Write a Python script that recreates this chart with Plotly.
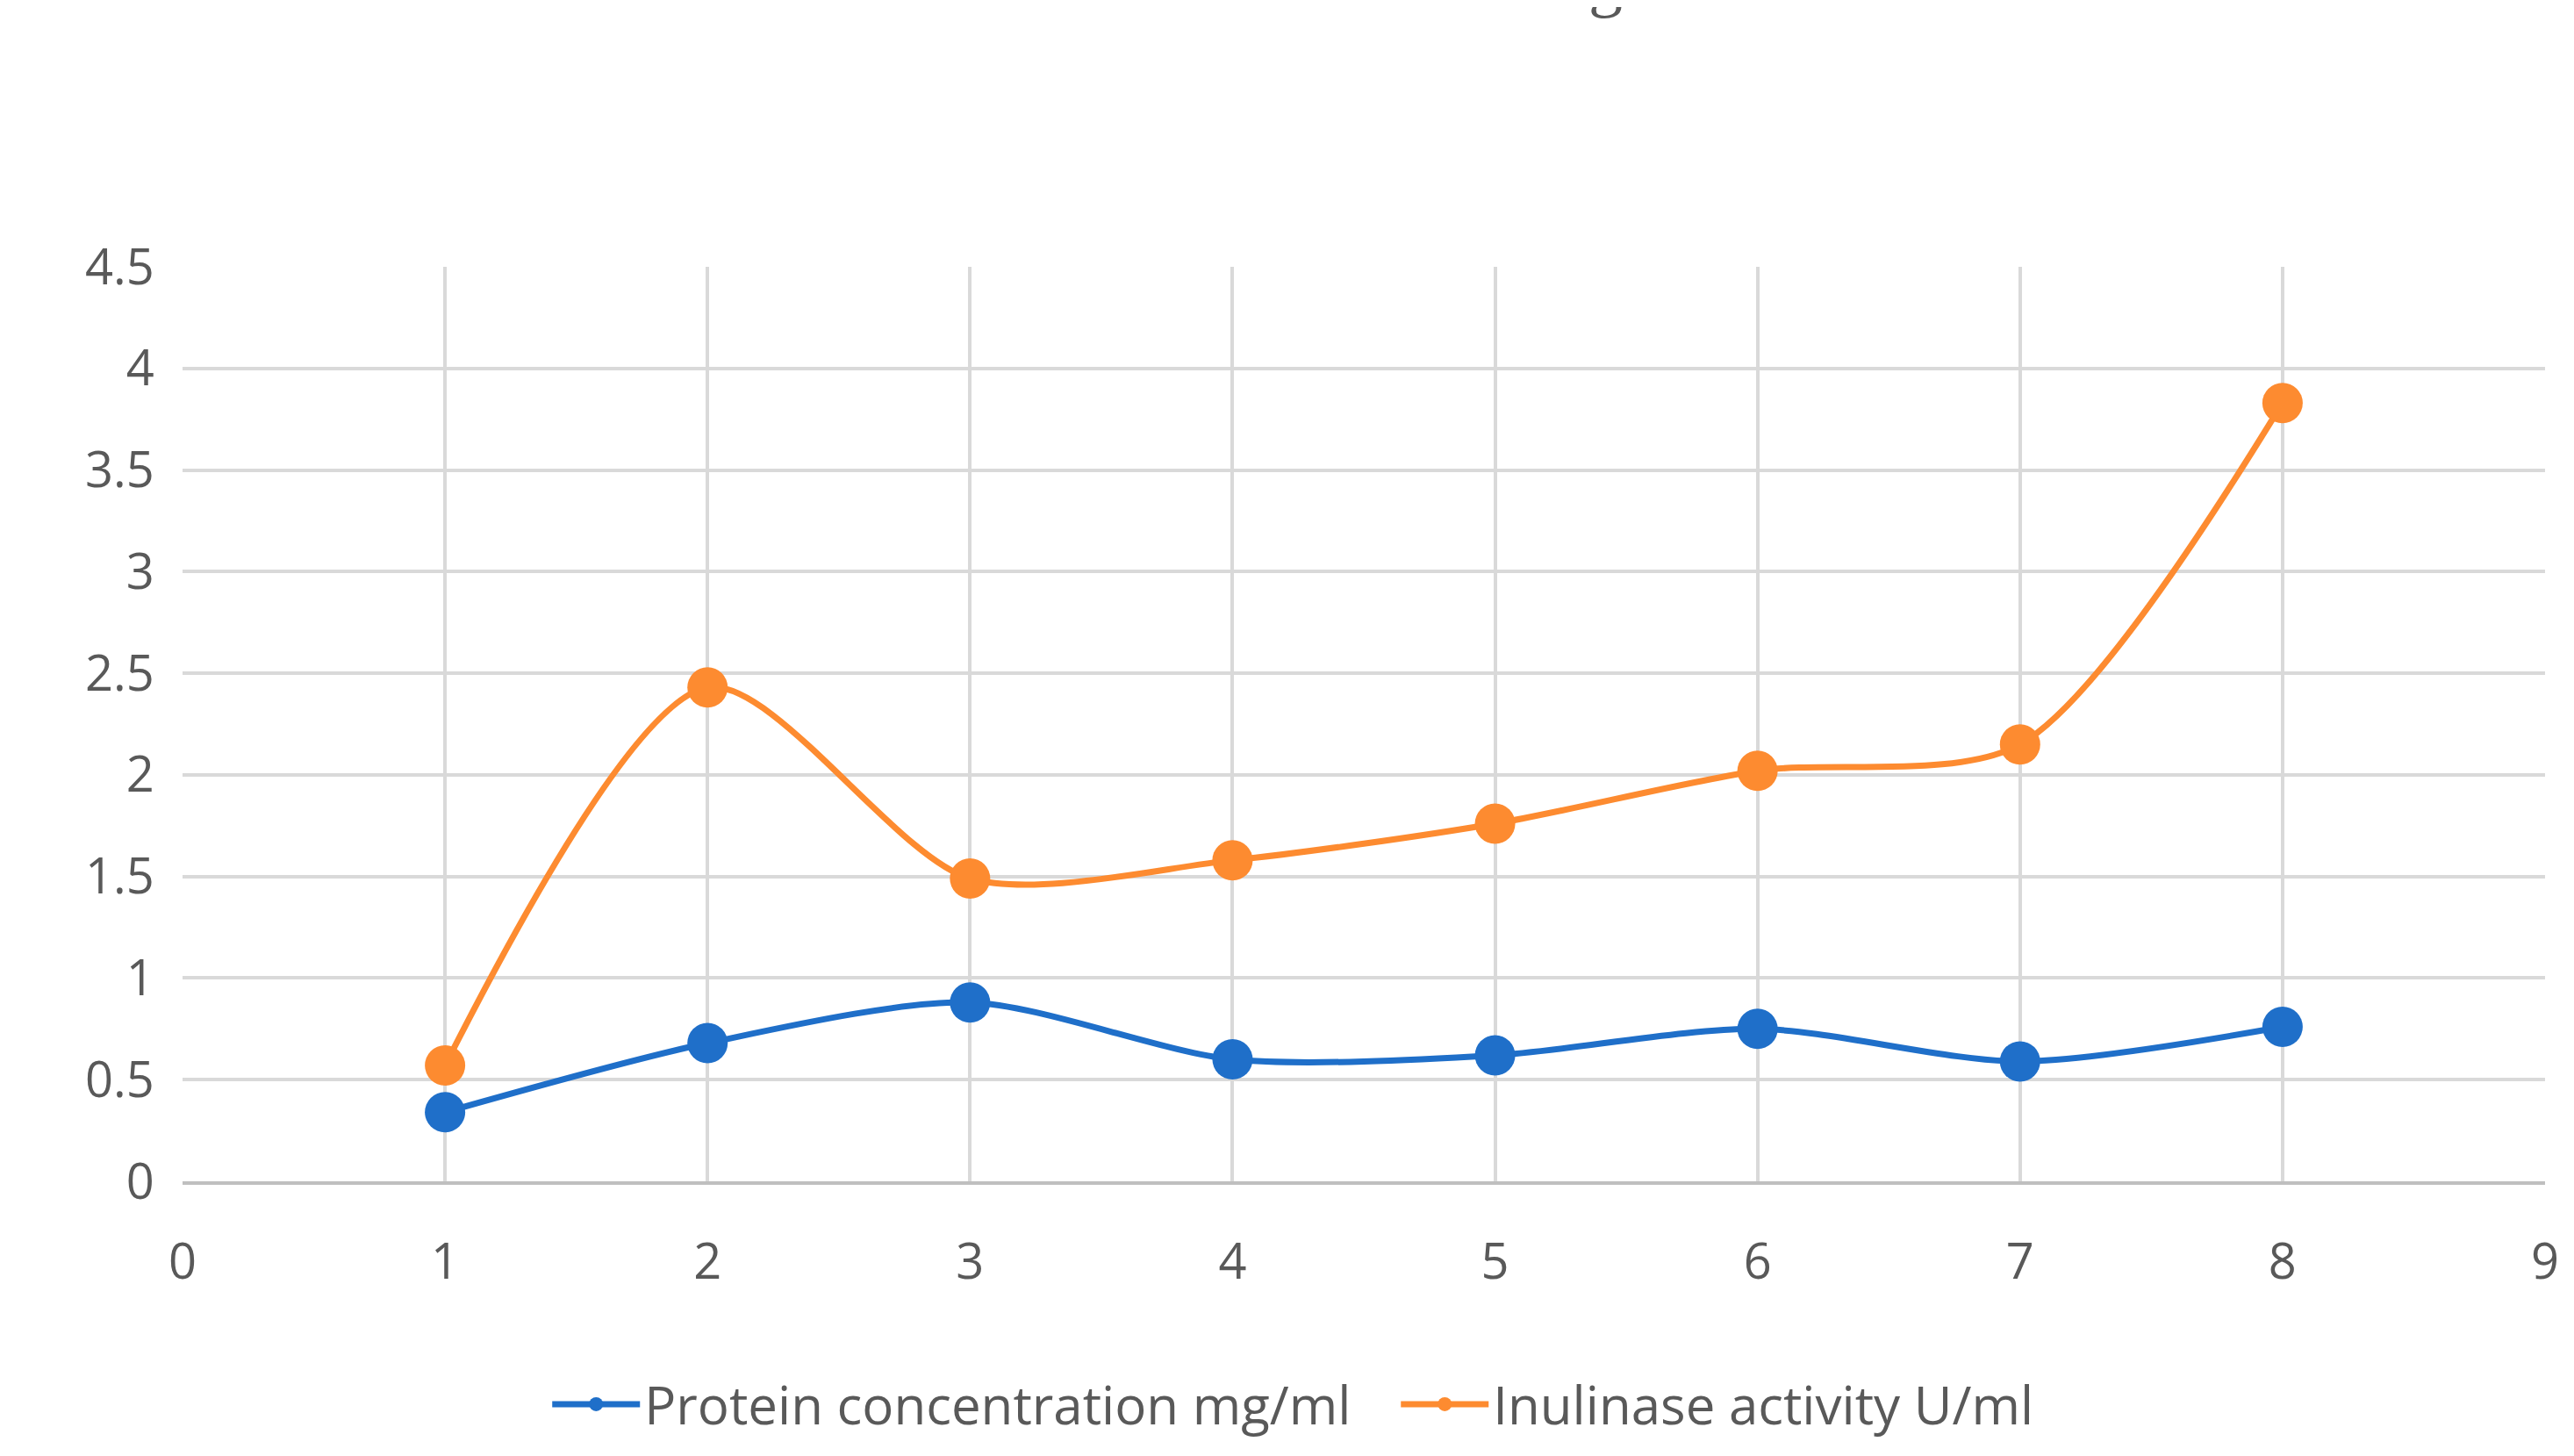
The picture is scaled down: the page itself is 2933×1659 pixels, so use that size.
import plotly.graph_objects as go

days = [1, 2, 3, 4, 5, 6, 7, 8]
protein = [0.34, 0.68, 0.88, 0.60, 0.62, 0.75, 0.59, 0.76]
inulinase = [0.57, 2.43, 1.49, 1.58, 1.76, 2.02, 2.15, 3.83]
y_ticks = [0, 0.5, 1, 1.5, 2, 2.5, 3, 3.5, 4, 4.5]
y_labels = ["0", "0.5", "1", "1.5", "2", "2.5", "3", "3.5", "4", "4.5"]

fig = go.Figure()
fig.add_trace(go.Scatter(
    x=days, y=protein, mode="lines+markers", name="Protein concentration mg/ml   ",
    line=dict(color="#1f6fc9", width=7, shape="spline", smoothing=0.8),
    marker=dict(size=46, color="#1f6fc9"),
))
fig.add_trace(go.Scatter(
    x=days, y=inulinase, mode="lines+markers", name="Inulinase activity U/ml",
    line=dict(color="#fd8b30", width=7, shape="spline", smoothing=0.8),
    marker=dict(size=46, color="#fd8b30"),
))

fig.add_annotation(
    text="Biosynthesis with <i>Aspergillius niger</i> ICCF 92 on FIS4 medium<br>without stirring",
    xref="paper", yref="paper", x=0.52, y=1.27, xanchor="center", yanchor="bottom",
    showarrow=False, font=dict(family="Liberation Serif", size=78, color="#595959"),
)

fig.update_layout(
    width=2933, height=1659,
    paper_bgcolor="white", plot_bgcolor="white",
    margin=dict(l=200, r=41, t=296, b=321),
    font=dict(family="Open Sans", color="#595959"),
    xaxis=dict(
        range=[0, 9], dtick=1, tickfont=dict(size=56, color="#595959"),
        showgrid=True, gridcolor="#d9d9d9", gridwidth=4,
        showline=True, linecolor="#bfbfbf", linewidth=4,
        zeroline=False, ticks="outside", ticklen=40, tickcolor="rgba(0,0,0,0)",
    ),
    yaxis=dict(
        range=[0, 4.5], tickvals=y_ticks, ticktext=y_labels,
        tickfont=dict(size=56, color="#595959"),
        showgrid=True, gridcolor="#d9d9d9", gridwidth=4, zeroline=False,
        ticks="outside", ticklen=20, tickcolor="rgba(0,0,0,0)",
    ),
    legend=dict(
        orientation="h", x=0.47, xanchor="center", y=-0.2, yanchor="top",
        font=dict(size=60, color="#595959"), itemwidth=100,
    ),
)
fig.write_html("out.html")
